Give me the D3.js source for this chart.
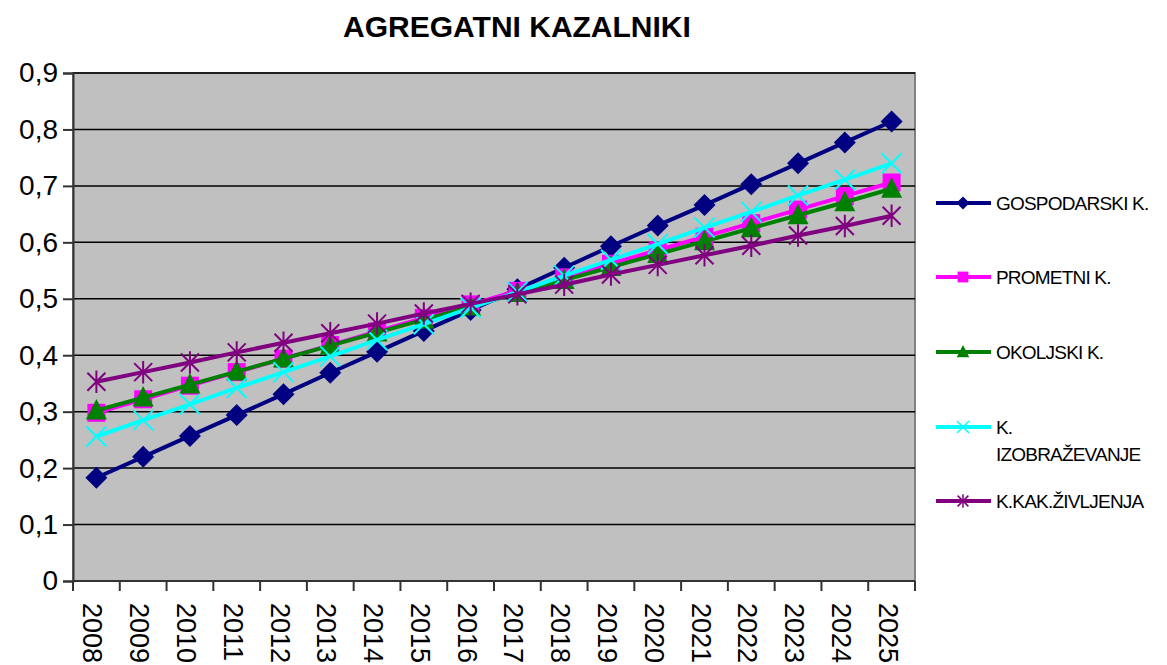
<!DOCTYPE html>
<html>
<head>
<meta charset="utf-8">
<script src="https://cdn.jsdelivr.net/npm/d3@7"></script>
<style>
  body { margin: 0; background: #fff; }
  text { font-family: "Liberation Sans", Arial, sans-serif; }
</style>
</head>
<body>
<svg id="chart" width="1167" height="665"></svg>
<script>
// categories and series
const years = ["2008","2009","2010","2011","2012","2013","2014","2015","2016","2017","2018","2019","2020","2021","2022","2023","2024","2025"];
const gospodarski = [0.183,0.220,0.257,0.294,0.331,0.369,0.406,0.443,0.480,0.517,0.555,0.593,0.630,0.666,0.703,0.740,0.777,0.814];
const prometni = [0.298,0.322,0.346,0.370,0.394,0.418,0.442,0.466,0.490,0.514,0.538,0.562,0.586,0.610,0.634,0.658,0.682,0.706];
const okoljski = [0.302,0.325,0.348,0.371,0.394,0.417,0.440,0.463,0.486,0.510,0.533,0.556,0.579,0.602,0.625,0.648,0.671,0.695];
const izobrazevanje = [0.256,0.285,0.313,0.342,0.370,0.398,0.427,0.455,0.484,0.512,0.541,0.569,0.597,0.626,0.654,0.683,0.711,0.740];
const kakovost = [0.353,0.370,0.387,0.405,0.422,0.439,0.456,0.474,0.491,0.508,0.525,0.543,0.560,0.577,0.594,0.612,0.629,0.647];
const yTicks = [0,0.1,0.2,0.3,0.4,0.5,0.6,0.7,0.8,0.9];

const series = [
  {name: "GOSPODARSKI K.", values: gospodarski, color: "#000080", marker: "diamond"},
  {name: "PROMETNI K.", values: prometni, color: "#FF00FF", marker: "square"},
  {name: "OKOLJSKI K.", values: okoljski, color: "#008000", marker: "triangle"},
  {name: ["K.", "IZOBRAŽEVANJE"], values: izobrazevanje, color: "#00FFFF", marker: "x"},
  {name: "K.KAK.ŽIVLJENJA", values: kakovost, color: "#800080", marker: "star"}
];

const svg = d3.select("#chart");
const plotL = 73, plotR = 915, plotT = 73, plotB = 581;

// title
svg.append("text").attr("x", 517).attr("y", 37).attr("text-anchor", "middle")
  .style("font-size", "30px").style("font-weight", "bold").text("AGREGATNI KAZALNIKI");

const x = d3.scaleBand().domain(years).range([plotL, plotR]);
const y = d3.scaleLinear().domain([0, 0.9]).range([plotB, plotT]);

// plot background
svg.append("rect").attr("x", plotL).attr("y", plotT).attr("width", plotR - plotL).attr("height", plotB - plotT)
  .attr("fill", "#C0C0C0").attr("stroke", "#808080").attr("stroke-width", 2);

// gridlines
svg.append("g").selectAll("line").data(yTicks.slice(1)).join("line")
  .attr("x1", plotL).attr("x2", plotR).attr("y1", d => y(d)).attr("y2", d => y(d))
  .attr("stroke", "#000").attr("stroke-width", 1.5);

// y axis
const yAxis = svg.append("g").attr("transform", `translate(${plotL},0)`)
  .call(d3.axisLeft(y).tickValues(yTicks).tickSize(10).tickPadding(5)
    .tickFormat(d => d === 0 ? "0" : d3.format(".1f")(d).replace(".", ",")));
yAxis.select(".domain").attr("stroke", "#333").attr("stroke-width", 2);
yAxis.selectAll(".tick line").attr("stroke", "#333").attr("stroke-width", 2);
yAxis.selectAll("text").style("font-size", "28px").attr("fill", "#000")
  .style("font-family", '"Liberation Sans", Arial, sans-serif');

// x axis: ticks sit between categories
const xAxisG = svg.append("g").attr("transform", `translate(0,${plotB})`);
xAxisG.append("line").attr("x1", plotL).attr("x2", plotR).attr("stroke", "#333").attr("stroke-width", 2);
const tickXs = years.map(d => x(d)).concat([plotR]);
xAxisG.selectAll("line.tk").data(tickXs).join("line").attr("class", "tk")
  .attr("x1", d => d).attr("x2", d => d)
  .attr("y1", 0).attr("y2", 10).attr("stroke", "#333").attr("stroke-width", 2);
xAxisG.selectAll("text").data(years).join("text")
  .attr("transform", d => `translate(${x(d) + x.bandwidth() / 2 - 13},${22}) rotate(90)`)
  .attr("text-anchor", "start").style("font-size", "27px").text(d => d);

// markers
function drawMarker(g, type, color, cx, cy, scale) {
  let r;
  if (type === "x" || type === "star") {
    r = (type === "x" ? 10 : 9) * scale;
    let d = `M${cx - r},${cy - r}L${cx + r},${cy + r}M${cx - r},${cy + r}L${cx + r},${cy - r}`;
    if (type === "star") d += `M${cx},${cy - r * 1.25}L${cx},${cy + r * 1.25}`;
    g.append("path").attr("d", d)
      .attr("stroke", color).attr("stroke-width", 2 * Math.max(scale, 0.75)).attr("fill", "none");
  } else if (type === "diamond") {
    r = 11 * scale;
    g.append("path").attr("d", `M${cx},${cy - r}L${cx + r},${cy}L${cx},${cy + r}L${cx - r},${cy}Z`).attr("fill", color);
  } else if (type === "square") {
    r = 9 * scale;
    g.append("rect").attr("x", cx - r).attr("y", cy - r).attr("width", 2 * r).attr("height", 2 * r).attr("fill", color);
  } else {
    r = 10.5 * scale;
    g.append("path").attr("d", `M${cx},${cy - r * 1.1}L${cx + r},${cy + r * 0.85}L${cx - r},${cy + r * 0.85}Z`).attr("fill", color);
  }
}

const line = d3.line().x((d, i) => x(years[i]) + x.bandwidth() / 2).y(d => y(d));
series.forEach(s => {
  const g = svg.append("g");
  g.append("path").datum(s.values).attr("d", line).attr("fill", "none")
    .attr("stroke", s.color).attr("stroke-width", 4);
  s.values.forEach((v, i) => drawMarker(g, s.marker, s.color, x(years[i]) + x.bandwidth() / 2, y(v), 1));
});

// legend
const legendY = [203, 277, 352, 427, 501];
series.forEach((s, i) => {
  const g = svg.append("g");
  const ly = legendY[i];
  g.append("line").attr("x1", 936).attr("x2", 991).attr("y1", ly).attr("y2", ly)
    .attr("stroke", s.color).attr("stroke-width", 4);
  drawMarker(g, s.marker, s.color, 963, ly, 0.6);
  const names = Array.isArray(s.name) ? s.name : [s.name];
  names.forEach((n, j) => {
    g.append("text").attr("x", 996).attr("y", ly + 7 + j * 27)
      .style("font-size", "19px").style("letter-spacing", "-0.8px").text(n);
  });
});
</script>
</body>
</html>
